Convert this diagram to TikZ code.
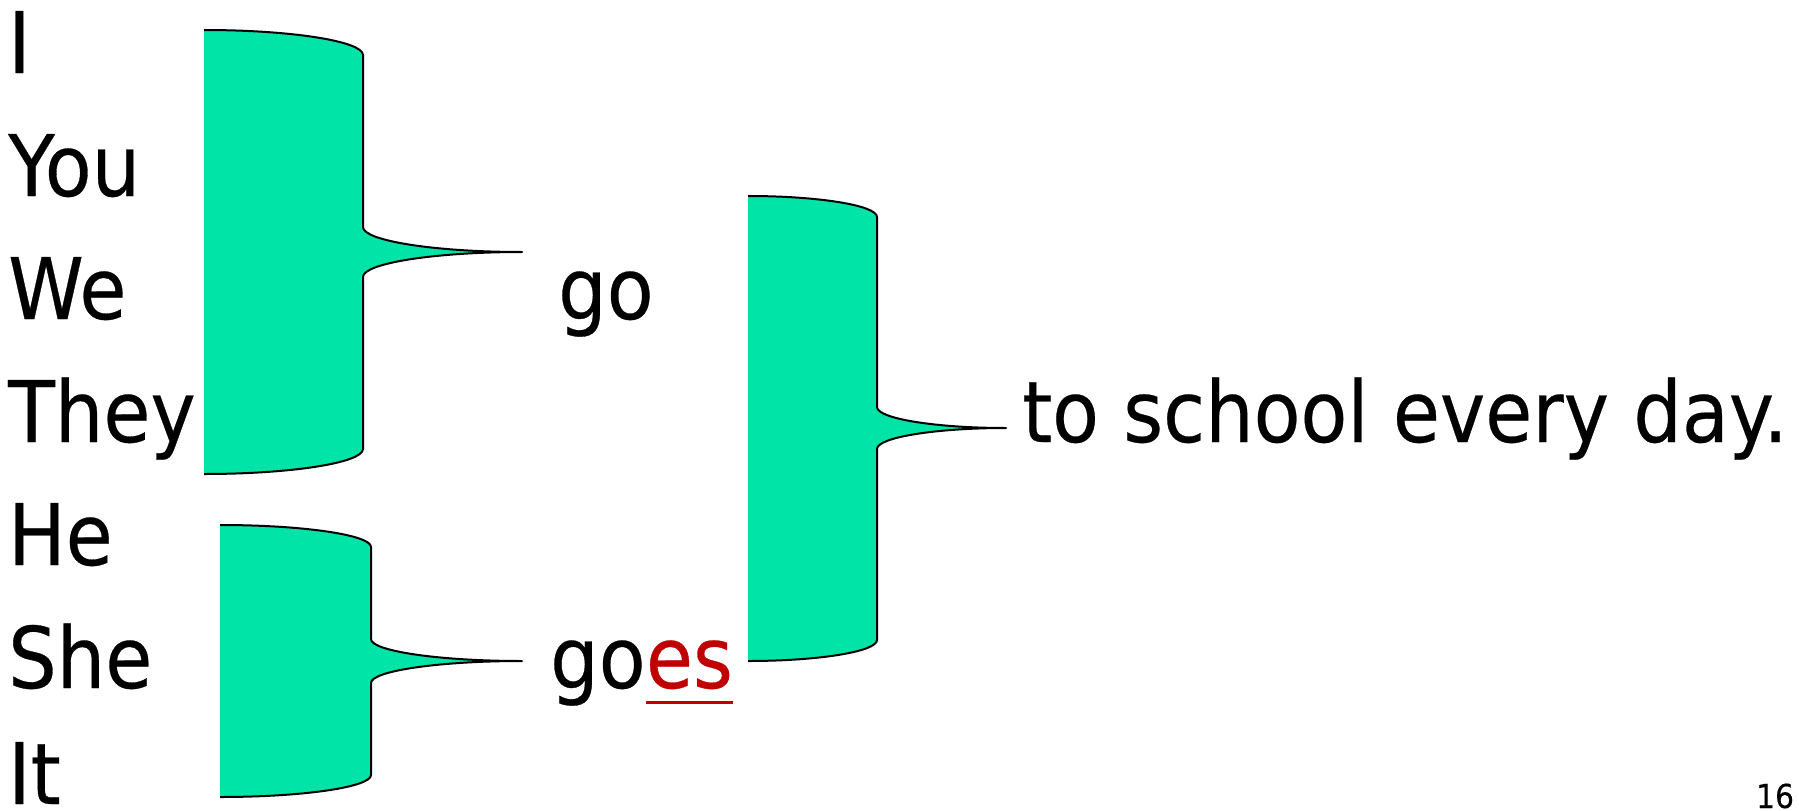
\documentclass[tikz,border=0pt]{standalone}
\usepackage{fontspec}
\setmainfont{DejaVu Sans}[FakeStretch=0.9, FakeBold=0.35]
\definecolor{bracegreen}{RGB}{0,228,168}
\definecolor{esred}{RGB}{192,0,0}
\tikzset{
  word/.style={anchor=base west, inner sep=0pt, font=\fontsize{85}{100}\selectfont},
  bracefill/.style={fill=bracegreen},
  bracestroke/.style={draw=black, line width=2pt, line join=round},
}
% #1 left x, #2 right x, #3 top y, #4 bottom y, #5 tip x, #6 tip y, #7 corner size
\newcommand\drawbrace[7]{%
  \fill[bracefill] (#1,#3) .. controls ({#1+0.55*(#2-#1)},#3) and (#2,{#3+0.45*#7}) .. (#2,{#3+#7})
    -- (#2,{#6-#7}) .. controls (#2,{#6-0.45*#7}) and ({#5-0.55*(#5-#2)},#6) .. (#5,#6)
    .. controls ({#5-0.55*(#5-#2)},#6) and (#2,{#6+0.45*#7}) .. (#2,{#6+#7})
    -- (#2,{#4-#7}) .. controls (#2,{#4-0.45*#7}) and ({#1+0.55*(#2-#1)},#4) .. (#1,#4) -- cycle;
  \draw[bracestroke] (#1,#3) .. controls ({#1+0.55*(#2-#1)},#3) and (#2,{#3+0.45*#7}) .. (#2,{#3+#7})
    -- (#2,{#6-#7}) .. controls (#2,{#6-0.45*#7}) and ({#5-0.55*(#5-#2)},#6) .. (#5,#6)
    .. controls ({#5-0.55*(#5-#2)},#6) and (#2,{#6+0.45*#7}) .. (#2,{#6+#7})
    -- (#2,{#4-#7}) .. controls (#2,{#4-0.45*#7}) and ({#1+0.55*(#2-#1)},#4) .. (#1,#4);
}
\begin{document}
\begin{tikzpicture}[x=1pt, y=-1pt]
\useasboundingbox (0,0) rectangle (1799,811);
\fill[white] (0,0) rectangle (1799,811);

\drawbrace{204}{363}{30}{474}{522}{252}{25}
\drawbrace{220}{371}{525}{797}{522}{661}{22}
\drawbrace{748}{877}{196}{661}{1006}{428}{21}

\node[word] (I)    at (8,73)  {I};
\node[word] (You)  at (8,196) {You};
\node[word] (We)   at (8,319) {We};
\node[word] (They) at (8,442) {They};
\node[word] (He)   at (8,565) {He};
\node[word] (She)  at (8,688) {She};
\node[word] (It)   at (8,804) {It};

\node[word] (go) at (558,319) {go};
\node[word] (goesgo) at (550,688) {go};
\node[word, text=esred] (goeses) at (goesgo.base east) {es};
\draw[esred, line width=3pt] ([yshift=-14pt]goeses.base west) -- ([yshift=-14pt]goeses.base east);

\node[word] (rest) at (1022,442) {to school every day.};
\node[anchor=base west, inner sep=0pt, font=\fontsize{33}{40}\selectfont] (num) at (1756,808) {16};
\end{tikzpicture}
\end{document}
